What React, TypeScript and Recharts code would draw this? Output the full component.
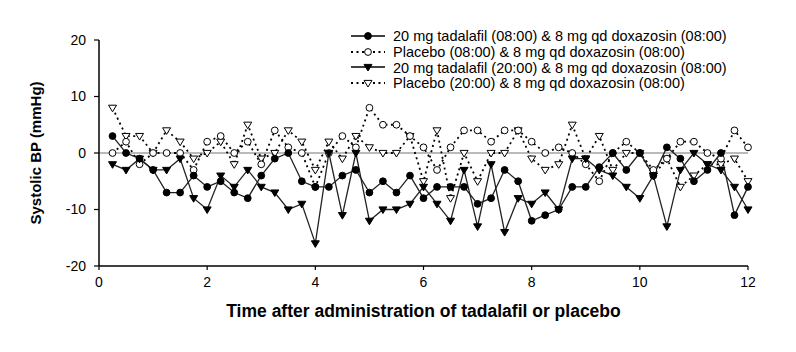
import { Legend, Line, LineChart, ReferenceLine, XAxis, YAxis } from "recharts";

// hours after dosing, 15-min steps
const times = [
  0.25, 0.5, 0.75, 1, 1.25, 1.5, 1.75, 2, 2.25, 2.5, 2.75, 3,
  3.25, 3.5, 3.75, 4, 4.25, 4.5, 4.75, 5, 5.25, 5.5, 5.75, 6,
  6.25, 6.5, 6.75, 7, 7.25, 7.5, 7.75, 8, 8.25, 8.5, 8.75, 9,
  9.25, 9.5, 9.75, 10, 10.25, 10.5, 10.75, 11, 11.25, 11.5, 11.75, 12,
];

// change in systolic BP (mmHg)
const tad0800 = [
  3, 0, -1, -3, -7, -7, -4, -6, -5, -7, -8, -4,
  -1, 0, -5, -6, -6, -4, -3, -7, -5, -7, -4, -8,
  -6, -6, -6, -9, -8, -3, -5, -12, -11, -10, -6, -6,
  -2.5, 0, -3, 0, -4, 1, -1, -5, -3, 0, -11, -6,
];
const pla0800 = [
  0, 2, -2, 0, 0, 0, -3, 2, 3, 0, 2, -2,
  4, 1, 0, -6, 0, 3, 1, 8, 5, 5, 3, 1,
  -3, 1, 4, 4, 2, 4, 4, 2, 0, 1, 0, -2,
  -5, 0, 2, 0, -3, -1, 2, 2, 0, -1, 4, 1,
];
const tad2000 = [
  -2, -3, -1, -3, -3, -1, -8, -10, -4, -6, -3, -6,
  -7, -10, -9, -16, 0, -11, 0, -12, -10, -10, -9, -6,
  -9, -12, -3, -13, -2, -14, -8, -9, -7, -10, -1, -1,
  -3, -4, -6, -8, -4, -13, -3, 0, -2, -3, -6, -10,
];
const pla2000 = [
  8, 3, 3, 0, 4, 2, -1, 0, 2, -2, 5, -1,
  0, 4, 2, -3, 2, -1, 3, 1, 0, 0, 3, -5,
  4, -8, 0, -5, 0, 0, 4, -1, -3, -2, 5, -1,
  3, -3, 0, 0, -4, -1, -6, -4, -2, -2, -1, -5,
];

const xTicks = [0, 2, 4, 6, 8, 10, 12];
const yTicks = [-20, -10, 0, 10, 20];

const data = times.map((t, i) => ({
  t,
  tad0800: tad0800[i],
  pla0800: pla0800[i],
  tad2000: tad2000[i],
  pla2000: pla2000[i],
}));

const FONT = "Arial, 'Liberation Sans', Helvetica, sans-serif";

type Marker = "filledCircle" | "openCircle" | "filledTri" | "openTri";

function drawMarker(kind: Marker, cx: number, cy: number, key?: string | number) {
  if (cx == null || cy == null) return null;
  if (kind === "filledCircle" || kind === "openCircle") {
    const filled = kind === "filledCircle";
    return (
      <circle key={key} cx={cx} cy={cy} r={3.4} fill={filled ? "#000" : "#fff"} stroke="#000" strokeWidth={1} />
    );
  }
  const filled = kind === "filledTri";
  const w = 4;
  const pts = `${cx - w},${cy - 2.6} ${cx + w},${cy - 2.6} ${cx},${cy + 4}`;
  return <polygon key={key} points={pts} fill={filled ? "#000" : "#fff"} stroke="#000" strokeWidth={1} />;
}

const series = [
  { key: "tad0800", name: "20 mg tadalafil (08:00) & 8 mg qd doxazosin (08:00)", marker: "filledCircle" as Marker, dash: undefined },
  { key: "pla0800", name: "Placebo (08:00) & 8 mg qd doxazosin (08:00)", marker: "openCircle" as Marker, dash: "2 3.5" },
  { key: "tad2000", name: "20 mg tadalafil (20:00) & 8 mg qd doxazosin (08:00)", marker: "filledTri" as Marker, dash: undefined },
  { key: "pla2000", name: "Placebo (20:00) & 8 mg qd doxazosin (08:00)", marker: "openTri" as Marker, dash: "2 3.5" },
];

function LegendBox() {
  return (
    <div style={{ fontFamily: FONT, fontSize: 14.5, color: "#000" }}>
      {series.map((s) => (
        <div key={s.key} style={{ display: "flex", alignItems: "center", height: 15.8 }}>
          <svg width={40} height={14}>
            <line
              x1={3}
              x2={37}
              y1={7}
              y2={7}
              stroke="#000"
              strokeWidth={s.dash ? 1.8 : 1.3}
              strokeDasharray={s.dash ? "2 3.5" : undefined}
            />
            {drawMarker(s.marker, 20, 7)}
          </svg>
          <span style={{ marginLeft: 5, whiteSpace: "nowrap" }}>{s.name}</span>
        </div>
      ))}
    </div>
  );
}

export default function App() {
  // dotted series first so the solid ones sit on top
  const order = [series[3], series[1], series[2], series[0]];
  return (
    <div style={{ width: 780, height: 330 }}>
      <LineChart width={780} height={330} data={data} margin={{ top: 32, right: 40, left: 0, bottom: 12 }}>
        <XAxis
          type="number"
          dataKey="t"
          domain={[0, 12]}
          ticks={xTicks}
          tickSize={4}
          tickMargin={7}
          height={60}
          axisLine={{ stroke: "#000", strokeWidth: 1.5 }}
          tickLine={{ stroke: "#000", strokeWidth: 1.2 }}
          tick={{ fill: "#000", fontSize: 14, fontFamily: FONT }}
          label={{
            value: "Time after administration of tadalafil or placebo",
            position: "insideBottom",
            offset: 9,
            style: { fill: "#000", fontSize: 17.5, fontWeight: "bold", fontFamily: FONT },
          }}
        />
        <YAxis
          domain={[-20, 20]}
          ticks={yTicks}
          width={91}
          tickSize={5}
          tickMargin={8}
          axisLine={{ stroke: "#000", strokeWidth: 1.5 }}
          tickLine={{ stroke: "#000", strokeWidth: 1.2 }}
          tick={{ fill: "#000", fontSize: 14, fontFamily: FONT }}
          label={{
            value: "Systolic BP (mmHg)",
            angle: -90,
            position: "insideLeft",
            offset: 28,
            style: { textAnchor: "middle", fill: "#000", fontSize: 15, fontWeight: "bold", fontFamily: FONT },
          }}
        />
        <ReferenceLine y={0} stroke="#777" strokeWidth={1.2} />
        {order.map((s) => (
          <Line
            key={s.key}
            type="linear"
            dataKey={s.key}
            name={s.name}
            stroke={s.dash ? "#000" : "#222"}
            strokeWidth={s.dash ? 1.8 : 1.3}
            strokeDasharray={s.dash}
            isAnimationActive={false}
            dot={(p: any) => drawMarker(s.marker, p.cx, p.cy, `${s.key}-${p.index}`)}
            activeDot={false}
          />
        ))}
        <Legend
          layout="horizontal"
          verticalAlign="middle"
          align="center"
          content={() => <LegendBox />}
          wrapperStyle={{ position: "absolute", left: 340, top: 20, width: 440, height: 66 }}
        />
      </LineChart>
    </div>
  );
}
